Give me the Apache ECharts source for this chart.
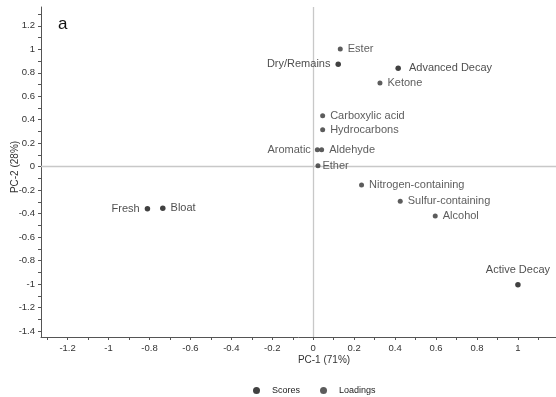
<!DOCTYPE html>
<html><head><meta charset="utf-8">
<script src="https://cdn.jsdelivr.net/npm/echarts@6/dist/echarts.min.js"></script>
<style>html,body{margin:0;padding:0;background:#fff}#c{width:556px;height:397px}</style>
</head><body><div id="c"></div>
<script>
const scoreNames = ['Fresh','Bloat','Dry/Remains','Advanced Decay','Active Decay'];
const scoreX = [-0.81,-0.735,0.122,0.415,1.0];
const scoreY = [-0.358,-0.354,0.872,0.838,-1.005];
const loadNames = ['Ester','Ketone','Carboxylic acid','Hydrocarbons','Aromatic','Aldehyde','Ether','Nitrogen-containing','Sulfur-containing','Alcohol'];
const loadX = [0.132,0.326,0.046,0.046,0.02,0.041,0.023,0.236,0.425,0.596];
const loadY = [1.003,0.713,0.434,0.315,0.145,0.145,0.009,-0.156,-0.295,-0.42];
const xTickLabels = [-1.2,-1,-0.8,-0.6,-0.4,-0.2,0,0.2,0.4,0.6,0.8,1];
const yTickLabels = [-1.4,-1.2,-1,-0.8,-0.6,-0.4,-0.2,0,0.2,0.4,0.6,0.8,1,1.2];
const xTicks = [-1.3,-1.2,-1.1,-1,-0.9,-0.8,-0.7,-0.6,-0.5,-0.4,-0.3,-0.2,-0.1,0,0.1,0.2,0.3,0.4,0.5,0.6,0.7,0.8,0.9,1,1.1];
const yTicks = [-1.4,-1.3,-1.2,-1.1,-1,-0.9,-0.8,-0.7,-0.6,-0.5,-0.4,-0.3,-0.2,-0.1,0,0.1,0.2,0.3,0.4,0.5,0.6,0.7,0.8,0.9,1,1.1,1.2,1.3];

// label placement (style, not data)
const labelPlace = {
  'Fresh':['left',5],'Dry/Remains':['left',5],'Aromatic':['left',4],
  'Active Decay':['top',7],'Advanced Decay':['right',8],'Ether':['right',2]
};
function mk(names,xs,ys){
  return names.map((n,i)=>{
    const p = labelPlace[n] || ['right',5];
    return {name:n,value:[xs[i],ys[i]],label:{position:p[0],distance:p[1]}};
  });
}
const font = '"Liberation Sans", Arial, sans-serif';
const chart = echarts.init(document.getElementById('c'),null,{renderer:'canvas'});
chart.setOption({
  animation:false,
  backgroundColor:'#fff',
  textStyle:{fontFamily:font},
  title:{text:'a',left:53,top:11,textStyle:{fontSize:17,fontWeight:'normal',color:'#111',fontFamily:font}},
  grid:{left:41,right:0,top:7,bottom:60,containLabel:false,outerBoundsMode:'none'},
  legend:{
    left:248,top:381,itemWidth:7,itemHeight:7,itemGap:20,icon:'circle',
    textStyle:{fontSize:9,color:'#222',padding:[0,0,0,7],fontFamily:font},
    data:['Scores','Loadings']
  },
  xAxis:{
    type:'value',min:-1.33,max:1.186,
    name:'PC-1 (71%)',nameLocation:'middle',nameGap:18,nameMoveOverlap:false,
    nameTextStyle:{fontSize:10,color:'#333',fontFamily:font,padding:[0,0,0,51]},
    axisLine:{show:true,onZero:false,lineStyle:{color:'#555',width:1}},
    axisTick:{show:true,customValues:xTicks,length:3,inside:false,lineStyle:{color:'#555'}},
    axisLabel:{customValues:xTickLabels,fontSize:9.5,color:'#333',margin:6,fontFamily:font},
    splitLine:{show:false}
  },
  yAxis:{
    type:'value',min:-1.45,max:1.36,
    name:'PC-2 (28%)',nameLocation:'middle',nameGap:21,nameRotate:90,nameMoveOverlap:false,
    nameTextStyle:{fontSize:10,color:'#333',fontFamily:font,padding:[0,0,0,10]},
    axisLine:{show:true,onZero:false,lineStyle:{color:'#555',width:1}},
    axisTick:{show:true,customValues:yTicks,length:3,inside:false,lineStyle:{color:'#555'}},
    axisLabel:{customValues:yTickLabels,fontSize:9.5,color:'#333',margin:6,fontFamily:font},
    splitLine:{show:false}
  },
  series:[
    {
      name:'Scores',type:'scatter',symbol:'circle',symbolSize:5.5,
      itemStyle:{color:'#111'},
      label:{show:true,formatter:'{b}',fontSize:11,color:'#222',fontFamily:font},
      data:mk(scoreNames,scoreX,scoreY),
      z:3,
      markLine:{
        silent:true,symbol:'none',label:{show:false},
        lineStyle:{color:'#c8c8c8',width:1.3,type:'solid'},
        data:[{xAxis:0},{yAxis:0}],z:1
      }
    },
    {
      name:'Loadings',type:'scatter',symbol:'circle',symbolSize:5,
      itemStyle:{color:'#333'},
      label:{show:true,formatter:'{b}',fontSize:11,color:'#333',fontFamily:font},
      data:mk(loadNames,loadX,loadY),
      z:3
    }
  ]
});
</script></body></html>
